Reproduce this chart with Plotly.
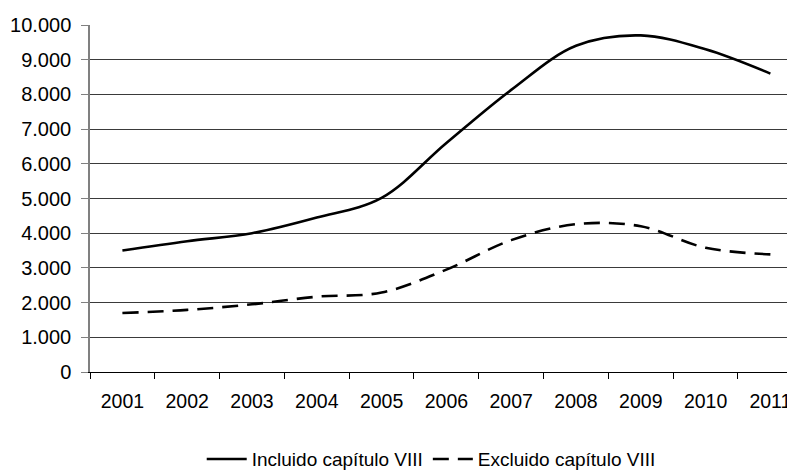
import plotly.graph_objects as go

years = ["2001", "2002", "2003", "2004", "2005", "2006", "2007", "2008", "2009", "2010", "2011"]
incluido = [3500, 3770, 4000, 4450, 5020, 6600, 8130, 9400, 9700, 9300, 8600]
excluido = [1700, 1790, 1950, 2170, 2290, 2950, 3800, 4260, 4200, 3580, 3390]
series_names = ["Incluido capítulo VIII", "Excluido capítulo VIII"]
y_ticks = [0, 1000, 2000, 3000, 4000, 5000, 6000, 7000, 8000, 9000, 10000]

FONT = "Liberation Sans, Arial, sans-serif"

fig = go.Figure()
fig.add_trace(go.Scatter(
    x=years, y=incluido, name=series_names[0], mode="lines",
    line=dict(color="black", width=2.6, shape="spline", smoothing=1.0),
))
fig.add_trace(go.Scatter(
    x=years, y=excluido, name=series_names[1], mode="lines",
    line=dict(color="black", width=2.6, shape="spline", smoothing=1.0, dash="16px,9px"),
))

# the page body adds an 8px offset; the figure is sized so it fits the window exactly
fig.update_layout(
    width=787, height=462,
    margin=dict(l=82, r=0, t=17, b=98, autoexpand=False),
    paper_bgcolor="white", plot_bgcolor="white",
    separators=",.",
    font=dict(family=FONT, size=19, color="black"),
    showlegend=True,
    legend=dict(
        orientation="h", x=0.484, xanchor="center", y=-0.251, yanchor="middle",
        font=dict(family=FONT, size=19, color="black"),
        itemwidth=40, tracegroupgap=0,
    ),
    xaxis=dict(
        type="category", range=[-0.5, 10.38], automargin=False,
        showgrid=False, showline=True, linecolor="black", linewidth=1,
        ticks="outside", tickson="boundaries", ticklen=6, tickcolor="black",
        tickfont=dict(family=FONT, size=19.5, color="black"),
        ticklabelstandoff=12,
        zeroline=False, fixedrange=True,
    ),
    yaxis=dict(
        range=[0, 10000], tickvals=y_ticks, tickformat=",d", automargin=False,
        showgrid=True, gridcolor="#3a3a3a", gridwidth=1,
        showline=True, linecolor="#808080", linewidth=1.5,
        ticks="outside", ticklen=7, tickcolor="#808080",
        tickfont=dict(family=FONT, size=20, color="black"),
        ticklabelstandoff=6,
        zeroline=False,
    ),
)

fig.write_html("out.html")
